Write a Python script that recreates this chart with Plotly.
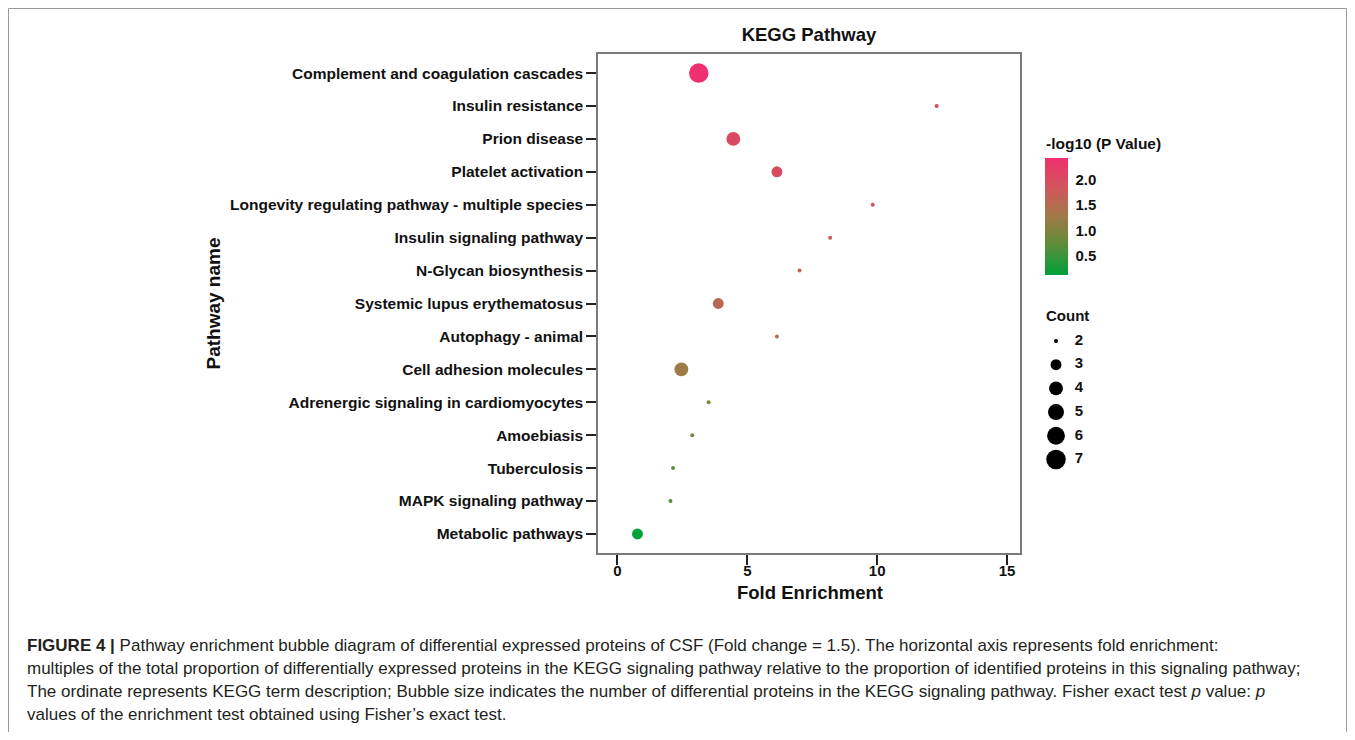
import numpy as np
import plotly.graph_objects as go

# ---------------- data ----------------
pathways = [
    "Complement and coagulation cascades",
    "Insulin resistance",
    "Prion disease",
    "Platelet activation",
    "Longevity regulating pathway - multiple species",
    "Insulin signaling pathway",
    "N-Glycan biosynthesis",
    "Systemic lupus erythematosus",
    "Autophagy - animal",
    "Cell adhesion molecules",
    "Adrenergic signaling in cardiomyocytes",
    "Amoebiasis",
    "Tuberculosis",
    "MAPK signaling pathway",
    "Metabolic pathways",
]
fold_enrichment = [3.13, 12.29, 4.46, 6.14, 9.83, 8.19, 7.01, 3.88, 6.14, 2.46, 3.51, 2.88, 2.14, 2.04, 0.77]
neg_log10_p = [2.44, 2.10, 2.05, 2.00, 1.95, 1.80, 1.70, 1.55, 1.55, 1.25, 1.00, 0.90, 0.70, 0.68, 0.11]
counts = [7, 2, 4, 3, 2, 2, 2, 3, 2, 4, 2, 2, 2, 2, 3]

legend_counts = [2, 3, 4, 5, 6, 7]
x_ticks = [0, 5, 10, 15]
cbar_ticks = [0.5, 1.0, 1.5, 2.0]

caption_lines = [
    "<b>FIGURE 4 |</b> Pathway enrichment bubble diagram of differential expressed proteins of CSF (Fold change = 1.5). The horizontal axis represents fold enrichment:",
    "multiples of the total proportion of differentially expressed proteins in the KEGG signaling pathway relative to the proportion of identified proteins in this signaling pathway;",
    "The ordinate represents KEGG term description; Bubble size indicates the number of differential proteins in the KEGG signaling pathway. Fisher exact test <i>p</i> value: <i>p</i>",
    "values of the enrichment test obtained using Fisher\u2019s exact test.",
]

# ---------------- styling helpers ----------------
OFF = 8                      # page body margin
W, H = 1355 - 2 * OFF, 740 - 2 * OFF
FONT = "Liberation Sans, Arial, sans-serif"


def px(x):
    """screen x -> paper x"""
    return (x - OFF) / W


def py(y):
    """screen y -> paper y"""
    return 1 - (y - OFF) / H


cmin_c, cmax_c = min(legend_counts), max(legend_counts)


def bubble_size(c):
    c = np.asarray(c, dtype=float)
    return 4 + 15.5 * np.sqrt((c - cmin_c) / (cmax_c - cmin_c))


colorscale = [
    [0.0, "#00A03C"],
    [0.3, "#6A8A38"],
    [0.5, "#A07A48"],
    [0.72, "#CC5A5A"],
    [1.0, "#F0306C"],
]

bold = dict(family=FONT, color="#111111", weight="bold")

fig = go.Figure()

fig.add_trace(go.Scatter(
    x=fold_enrichment,
    y=pathways,
    mode="markers",
    marker=dict(
        size=bubble_size(counts),
        color=neg_log10_p,
        colorscale=colorscale,
        cmin=min(neg_log10_p),
        cmax=max(neg_log10_p),
        opacity=1,
        line=dict(width=0),
        colorbar=dict(
            x=px(1045), xanchor="left",
            y=py(216.5), yanchor="middle",
            len=117, lenmode="pixels",
            thickness=23, thicknessmode="pixels",
            xpad=0, ypad=0,
            outlinewidth=0,
            ticks="outside", ticklen=5, tickwidth=1,
            tickcolor="white",
            tickvals=cbar_ticks,
            ticktext=[f"{v:.1f}" for v in cbar_ticks],
            tickfont=dict(size=15, **bold),
        ),
    ),
    showlegend=False,
    xaxis="x", yaxis="y",
))

# size legend drawn on its own hidden axes
fig.add_trace(go.Scatter(
    x=[16] * len(legend_counts),
    y=legend_counts,
    mode="markers",
    marker=dict(size=bubble_size(legend_counts), color="#000000", opacity=1, line=dict(width=0)),
    showlegend=False,
    xaxis="x2", yaxis="y2",
    hoverinfo="skip",
))
fig.add_trace(go.Scatter(
    x=[39] * len(legend_counts),
    y=legend_counts,
    mode="text",
    text=[str(c) for c in legend_counts],
    textposition="middle center",
    textfont=dict(size=15, **bold),
    showlegend=False,
    xaxis="x2", yaxis="y2",
    hoverinfo="skip",
))

axis_common = dict(
    showline=True, linecolor="#7a7a7a", linewidth=1.5, mirror=True,
    ticks="outside", tickcolor="#222222", tickwidth=1.5,
    showgrid=False, zeroline=False,
)

n = len(pathways)
fig.update_layout(
    width=W, height=H,
    margin=dict(l=0, r=0, t=0, b=0, autoexpand=False),
    paper_bgcolor="white", plot_bgcolor="white",
    font=dict(family=FONT, color="#111111"),
    title=dict(
        text="KEGG Pathway", x=px(809), xanchor="center",
        y=py(35), yanchor="middle",
        font=dict(size=18.5, **bold),
    ),
    xaxis=dict(
        domain=[px(598), px(1020)],
        range=[-0.75, 15.5],
        tickvals=x_ticks,
        ticklen=10,
        ticklabelstandoff=-7,
        tickfont=dict(size=15, **bold),
        anchor="y",
        **axis_common,
    ),
    yaxis=dict(
        domain=[py(553), py(54)],
        type="category",
        categoryorder="array",
        categoryarray=pathways[::-1],
        range=[-0.58, n - 1 + 0.58],
        ticklen=10,
        tickfont=dict(size=15.5, **bold),
        anchor="x",
        **axis_common,
    ),
    xaxis2=dict(domain=[px(1040), px(1100)], range=[0, 60], visible=False, anchor="y2", fixedrange=True),
    yaxis2=dict(domain=[py(480), py(320)], range=[7.865, 1.114], visible=False, anchor="x2", fixedrange=True),
)

annotations = [
    dict(text="Fold Enrichment", x=px(810), y=py(592), xref="paper", yref="paper",
         xanchor="center", yanchor="middle", showarrow=False, font=dict(size=18.5, **bold)),
    dict(text="Pathway name", x=px(213), y=py(303.5), xref="paper", yref="paper",
         xanchor="center", yanchor="middle", textangle=-90, showarrow=False, font=dict(size=19, **bold)),
    dict(text="-log10 (P Value)", x=px(1044), y=py(143), xref="paper", yref="paper",
         xanchor="left", yanchor="middle", showarrow=False, font=dict(size=15.5, **bold)),
    dict(text="Count", x=px(1044), y=py(315), xref="paper", yref="paper",
         xanchor="left", yanchor="middle", showarrow=False, font=dict(size=15, **bold)),
]
caption_y = [645, 668, 691, 714]
for line, yy in zip(caption_lines, caption_y):
    annotations.append(dict(
        text=line, x=px(25), y=py(yy), xref="paper", yref="paper",
        xanchor="left", yanchor="middle", showarrow=False, align="left",
        font=dict(family=FONT, size=17, color="#231F20"),
    ))
fig.update_layout(annotations=annotations)

fig.add_shape(type="rect", xref="paper", yref="paper",
              x0=0.5 / W, x1=1 - 0.5 / W, y0=1 - 0.5 / H, y1=-0.2,
              line=dict(color="#9a9a9a", width=1), fillcolor="rgba(0,0,0,0)", layer="below")

fig.write_html("out.html")
